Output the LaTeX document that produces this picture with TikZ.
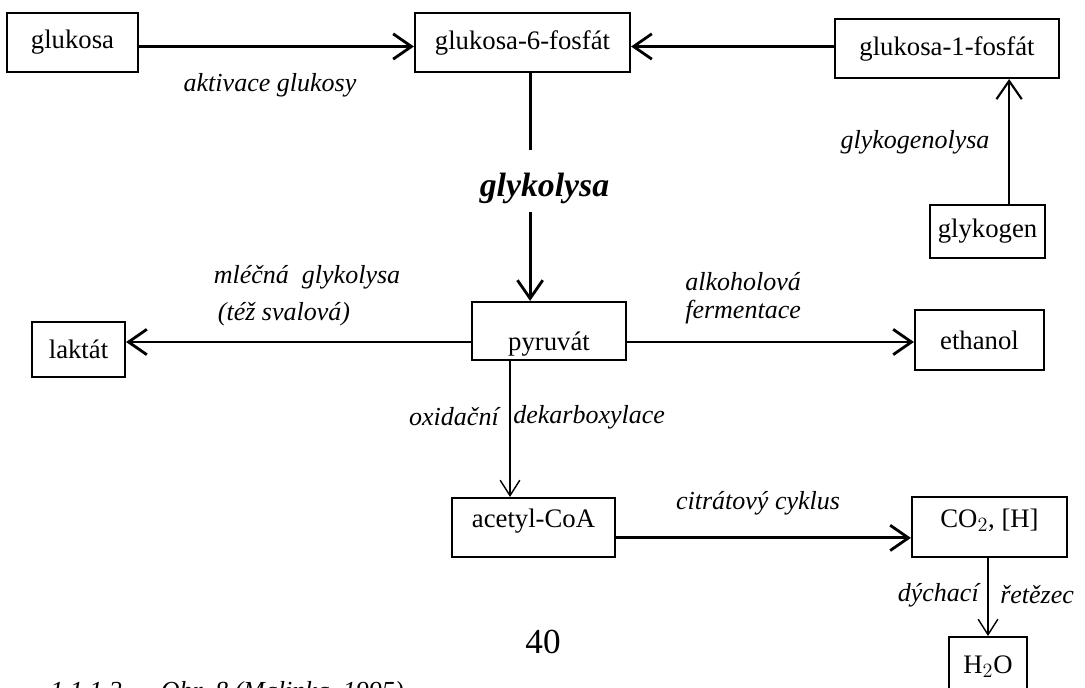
\documentclass[tikz,border=0pt]{standalone}
\usepackage{fontspec}
\setmainfont{Liberation Serif}
\usetikzlibrary{arrows.meta}
\def\boxsize{\fontsize{19}{21}\selectfont}
\def\lblsize{\fontsize{18.5}{20}\selectfont}

\begin{document}
\begin{tikzpicture}[x=0.025cm,y=-0.025cm,
		box/.style={draw, line width=1.5pt, inner sep=0pt, font=\boxsize},
		lbl/.style={inner sep=0pt, font=\lblsize\itshape},
		vee/.style={-{Straight Barb[length=13pt,width=18pt]}},
		smallvee/.style={-{Straight Barb[length=11pt,width=14pt]}},
		thickline/.style={line width=2pt},
		thinline/.style={line width=1pt}]
		%%%%% START %%%%%
		\useasboundingbox (0,0) rectangle (1085,688);
		\clip (0,0) rectangle (1085,688);
		
		\node[box, minimum width=3.275cm, minimum height=1.475cm] (glukosa) at (72.5,42.5) {glukosa};
		\node[box, minimum width=5.375cm, minimum height=1.475cm] (g6p) at (522.5,42.5) {glukosa-6-fosfát};
		\node[box, minimum width=5.6cm, minimum height=1.475cm] (g1p) at (947,48.5) {glukosa-1-fosfát};
		\node[box, minimum width=2.875cm, minimum height=1.325cm] (glykogen) at (987.5,231.5) {glykogen};
		
		\node[box, minimum width=3.85cm, minimum height=1.45cm] (pyruvat) at (549,331) {\raisebox{-0.475cm}[0pt][0pt]{pyruvát}\hspace{0.8cm}};
		\node[box, minimum width=2.325cm, minimum height=1.375cm] (laktat) at (78.5,349.5) {laktát};
		\node[box, minimum width=3.225cm, minimum height=1.5cm] (ethanol) at (979.5,340) {ethanol};
		
		\node[box, minimum width=4.075cm, minimum height=1.475cm] (acetyl) at (533.5,527.5) {\raisebox{0pt}[0pt][0pt]{acetyl-CoA}};
		\node[box, minimum width=3.875cm, minimum height=1.5cm] (co2) at (989.5,527) {\raisebox{0pt}[0pt][0pt]{CO$_2$, [H]}};
		\node[box, minimum width=1.95cm, minimum height=2cm, anchor=north] (h2o) at (988,636) {\raisebox{0.1cm}[0pt][0pt]{H$_2$O}};
		
		% popisky
		\node[lbl] (aktivace) at (270,85) {aktivace glukosy};
		\node[font=\fontsize{24}{26}\selectfont\bfseries\itshape, inner sep=0pt, anchor=base,
			text height=1.175cm, text depth=0.375cm] (glykolysa) at (544.5,197) {glykolysa};
		\node[lbl] (glykogenolysa) at (915,142) {glykogenolysa};
		\node[lbl] (mlecna) at (307,277) {mléčná\ \ glykolysa};
		\node[lbl] (tez) at (284,314) {(též svalová)};
		\node[lbl, anchor=west] (alkohol) at (685,282) {alkoholová};
		\node[lbl, anchor=west] (ferment) at (685,312) {fermentace};
		\node[lbl, anchor=east] (oxid) at (499,417) {oxidační};
		\node[lbl, anchor=west] (dekarb) at (513,417) {dekarboxylace};
		\node[lbl] (citrat) at (758,503) {citrátový cyklus};
		\node[lbl, anchor=east] (dychaci) at (979,595) {dýchací};
		\node[lbl, anchor=west] (retezec) at (1000,595) {řetězec};
		\node[font=\fontsize{25}{27}\selectfont] (strana) at (543,642) {40};
		\node[lbl, anchor=base west] (obr) at (50,699) {1.1.1.2\ \ –\ \ Obr. 8 (Malinka, 1995)};
		
		% sipky
		\coordinate (gin) at ([yshift=-0.1cm]g6p.west);
		\coordinate (gout) at ([yshift=-0.1cm]g6p.east);
		\coordinate (osa) at ([xshift=0.19cm]g6p.south);
		\coordinate (gk) at ([xshift=0.54cm]glykogen.north);
		\draw[thickline, vee] (glukosa.east |- gin) -- (gin);
		\draw[thickline, vee] (g1p.west |- gout) -- (gout);
		\draw[thickline] (osa) -- (osa |- glykolysa.north);
		\draw[thickline, vee] (osa |- glykolysa.south) -- (osa |- pyruvat.north);
		\draw[line width=1.5pt, vee] (gk) -- (gk |- g1p.south);
		
		\coordinate (pl) at ([yshift=-0.275cm]pyruvat.west);
		\coordinate (pe) at ([yshift=-0.275cm]pyruvat.east);
		\coordinate (pa) at ([xshift=-0.975cm]pyruvat.south);
		\draw[thickline, vee] (pl) -- (pl -| laktat.east);
		\draw[thickline, vee] (pe) -- (pe -| ethanol.west);
		\draw[thinline, smallvee] (pa) -- (pa |- acetyl.north);
		
		\coordinate (ac) at ([yshift=-0.26cm]acetyl.east);
		\draw[thickline, vee] (ac) -- (ac -| co2.west);
		\draw[thinline, smallvee] (h2o.north |- co2.south) -- (h2o.north);
		%%%%% END %%%%%
\end{tikzpicture}
\end{document}
